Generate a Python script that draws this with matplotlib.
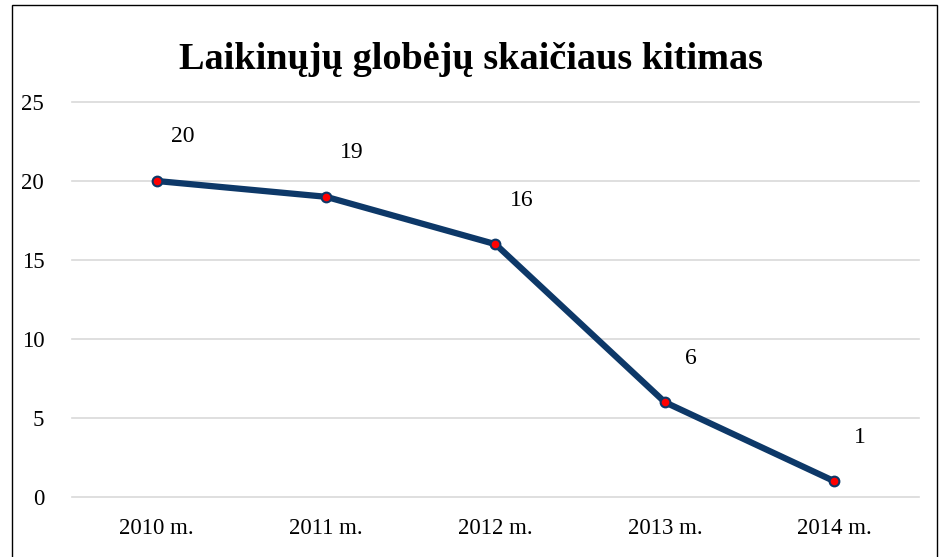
import matplotlib
matplotlib.use('Agg')
import matplotlib.pyplot as plt
from matplotlib.patches import Rectangle

metai = ['2010 m.', '2011 m.', '2012 m.', '2013 m.', '2014 m.']
globejai = [20, 19, 16, 6, 1]

plt.rcParams['font.family'] = ['Liberation Serif', 'DejaVu Serif']

fig = plt.figure(figsize=(9.41, 5.57), dpi=100)
ax = fig.add_axes([0.0765, 0.1077, 0.9001, 0.7092])

x = list(range(len(metai)))
ax.plot(x, globejai, color='#0d3868', linewidth=4.5, solid_capstyle='round',
        marker='o', markersize=7, markerfacecolor='#ff0000',
        markeredgecolor='#0d3868', markeredgewidth=1.5, zorder=3)

for xi, v in zip(x, globejai):
    ax.annotate(str(v), (xi, v), xytext=(26, 44), textcoords='offset pixels',
                ha='center', va='center', fontsize=17)

ax.set_xlim(-0.5, len(metai) - 0.5)
ax.set_ylim(0, 25)
ax.set_yticks([0, 5, 10, 15, 20, 25])
ax.set_xticks(x)
ax.set_xticklabels(metai)
ax.tick_params(axis='both', length=0, labelsize=16.5)
ax.tick_params(axis='y', pad=20)
ax.tick_params(axis='x', pad=15)
ax.grid(axis='y', color='#d9d9d9', linewidth=1.2)
for gl in ax.get_ygridlines():
    gl.set_clip_on(False)
ax.set_axisbelow(True)
for s in ax.spines.values():
    s.set_visible(False)

fig.text(0.5, 0.893, 'Laikinųjų globėjų skaičiaus kitimas', ha='center', va='center',
         fontsize=27.5, fontweight='bold')

fig.patches.append(Rectangle((12 / 941, -0.01), 925 / 941, 1 - 5 / 557 + 0.01,
                             transform=fig.transFigure, fill=False,
                             edgecolor='black', linewidth=1))

fig.savefig('out.png', dpi=100)
